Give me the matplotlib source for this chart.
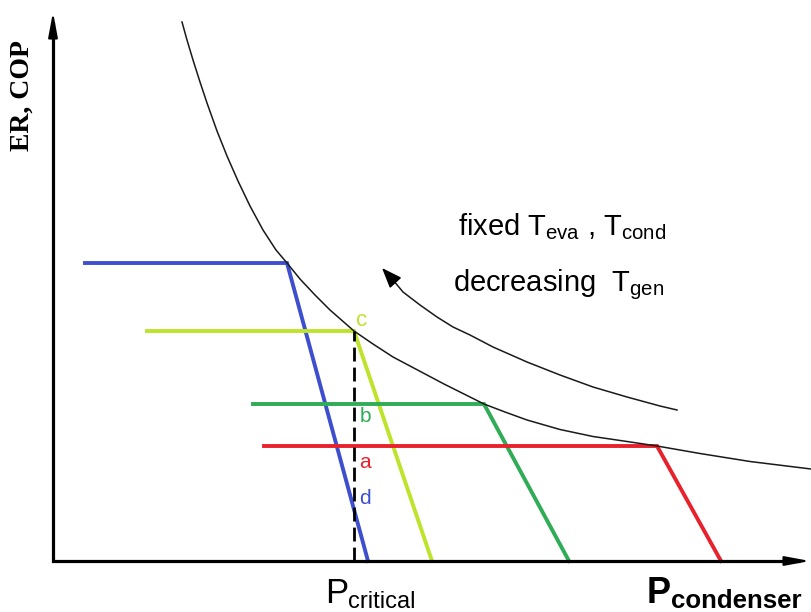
import matplotlib
matplotlib.use("Agg")
import matplotlib.pyplot as plt

plt.rcParams["font.family"] = ["Liberation Sans", "DejaVu Sans"]
plt.rcParams["mathtext.fontset"] = "custom"
plt.rcParams["mathtext.rm"] = "Liberation Sans"
plt.rcParams["mathtext.it"] = "Liberation Sans"
plt.rcParams["mathtext.bf"] = "Liberation Sans:bold"

# Operating curves: flat (critical) branch, then linear drop (sub-critical)
curve_a_x = [211, 604, 668]
curve_a_y = [115, 115, 0]
curve_b_x = [200, 431, 516]
curve_b_y = [157, 157, 0]
curve_c_x = [94, 301, 379]
curve_c_y = [230, 230, 0]
curve_d_x = [32, 234, 315]
curve_d_y = [298, 298, 0]

# Envelope through the critical points
envelope_x = [129, 134, 140, 147, 154, 164, 174, 185, 197, 210, 223, 234,
              247, 262, 277, 301, 320, 340, 357, 374, 391, 407, 431, 452,
              474, 507, 540, 574, 604, 647, 697, 758]
envelope_y = [539, 521, 501, 479, 458, 430, 405, 380, 355, 331, 311, 298,
              282, 266, 251, 230, 217, 204, 195, 186, 177, 169, 157, 149,
              141, 131.5, 124.5, 119.5, 115, 107.5, 99.5, 92]

# Trend arrow (decreasing generator temperature)
trend_x = [329, 340, 350, 367, 384, 400, 417, 440, 474, 507, 540, 574, 607, 624]
trend_y = [293, 281, 269, 256, 244, 234, 226, 214, 199, 186, 174, 164, 155, 151]

p_critical = 301
p_critical_er = 230

x_max = 757
y_max = 549

fig = plt.figure(figsize=(8.11, 6.12), dpi=100)
ax = fig.add_axes([0, 0, 1, 1])
ax.set_xlim(-53, 758)
ax.set_ylim(-51, 561)
ax.axis("off")

lw_curve = 2.8
ax.plot(curve_d_x, curve_d_y, color="#3d4fcf", lw=lw_curve, solid_joinstyle="miter")
ax.plot(curve_c_x, curve_c_y, color="#bde42a", lw=lw_curve, solid_joinstyle="miter")
ax.plot(curve_b_x, curve_b_y, color="#2fac55", lw=lw_curve, solid_joinstyle="miter")
ax.plot(curve_a_x, curve_a_y, color="#e8222c", lw=lw_curve, solid_joinstyle="miter")

ax.plot(envelope_x, envelope_y, color="#1a1a1a", lw=1.1)
ax.plot(trend_x[1:], trend_y[1:], color="#1a1a1a", lw=1.1)
ax.annotate("", xy=(trend_x[0], trend_y[0]), xytext=(trend_x[1], trend_y[1]),
            arrowprops=dict(arrowstyle="-|>,head_length=1.25,head_width=0.48",
                            color="black", lw=1.1, shrinkA=0, shrinkB=0))

ax.plot([p_critical, p_critical], [0, p_critical_er], color="black", lw=2.0,
        linestyle=(0, (5, 2.2)))

# Axes with arrow heads
ax.plot([0, 0, x_max - 10], [y_max - 10, 0, 0], color="black", lw=2.3,
        solid_joinstyle="miter", solid_capstyle="butt")
ax.annotate("", xy=(0, y_max), xytext=(0, y_max - 25),
            arrowprops=dict(arrowstyle="-|>,head_length=1.5,head_width=0.28",
                            color="black", lw=1.5, shrinkA=0, shrinkB=0))
ax.annotate("", xy=(x_max, 0), xytext=(x_max - 25, 0),
            arrowprops=dict(arrowstyle="-|>,head_length=1.5,head_width=0.28",
                            color="black", lw=1.5, shrinkA=0, shrinkB=0))

# Point labels
ax.text(309, 241, "c", color="#bde42a", fontsize=16, ha="center", va="center")
ax.text(312, 144, "b", color="#2fac55", fontsize=15, ha="center", va="center")
ax.text(312, 99, "a", color="#e8222c", fontsize=15, ha="center", va="center")
ax.text(312, 63, "d", color="#3d4fcf", fontsize=15, ha="center", va="center")

ax.text(405, 326, r"fixed $T_{eva}$ , $T_{cond}$", fontsize=21,
        ha="left", va="baseline")
ax.text(400, 270, r"decreasing  $T_{gen}$", fontsize=21,
        ha="left", va="baseline")

# Axis captions: main letter plus a subscript placed right after it
fig.canvas.draw()
renderer = fig.canvas.get_renderer()
to_data = ax.transData.inverted()


def caption(x, y, main, sub, size, sub_size, gap_px, weight="normal"):
    t = ax.text(x, y, main, fontsize=size, fontweight=weight,
                ha="left", va="baseline")
    bb = t.get_window_extent(renderer)
    xs, _ = to_data.transform((bb.x1 + gap_px, bb.y0))
    ax.text(xs, y - 5, sub, fontsize=sub_size, fontweight=weight,
            ha="left", va="baseline")


caption(272, -42, "P", "critical", 25, 17, 0)
caption(594, -42, "P", "condenser", 26, 18.6, 0, weight="bold")

ax.text(-31, 465, "ER, COP", fontsize=20, fontweight="bold",
        family=["Liberation Serif", "DejaVu Serif"], rotation=90,
        ha="center", va="center")

fig.savefig("out.png", dpi=100)
